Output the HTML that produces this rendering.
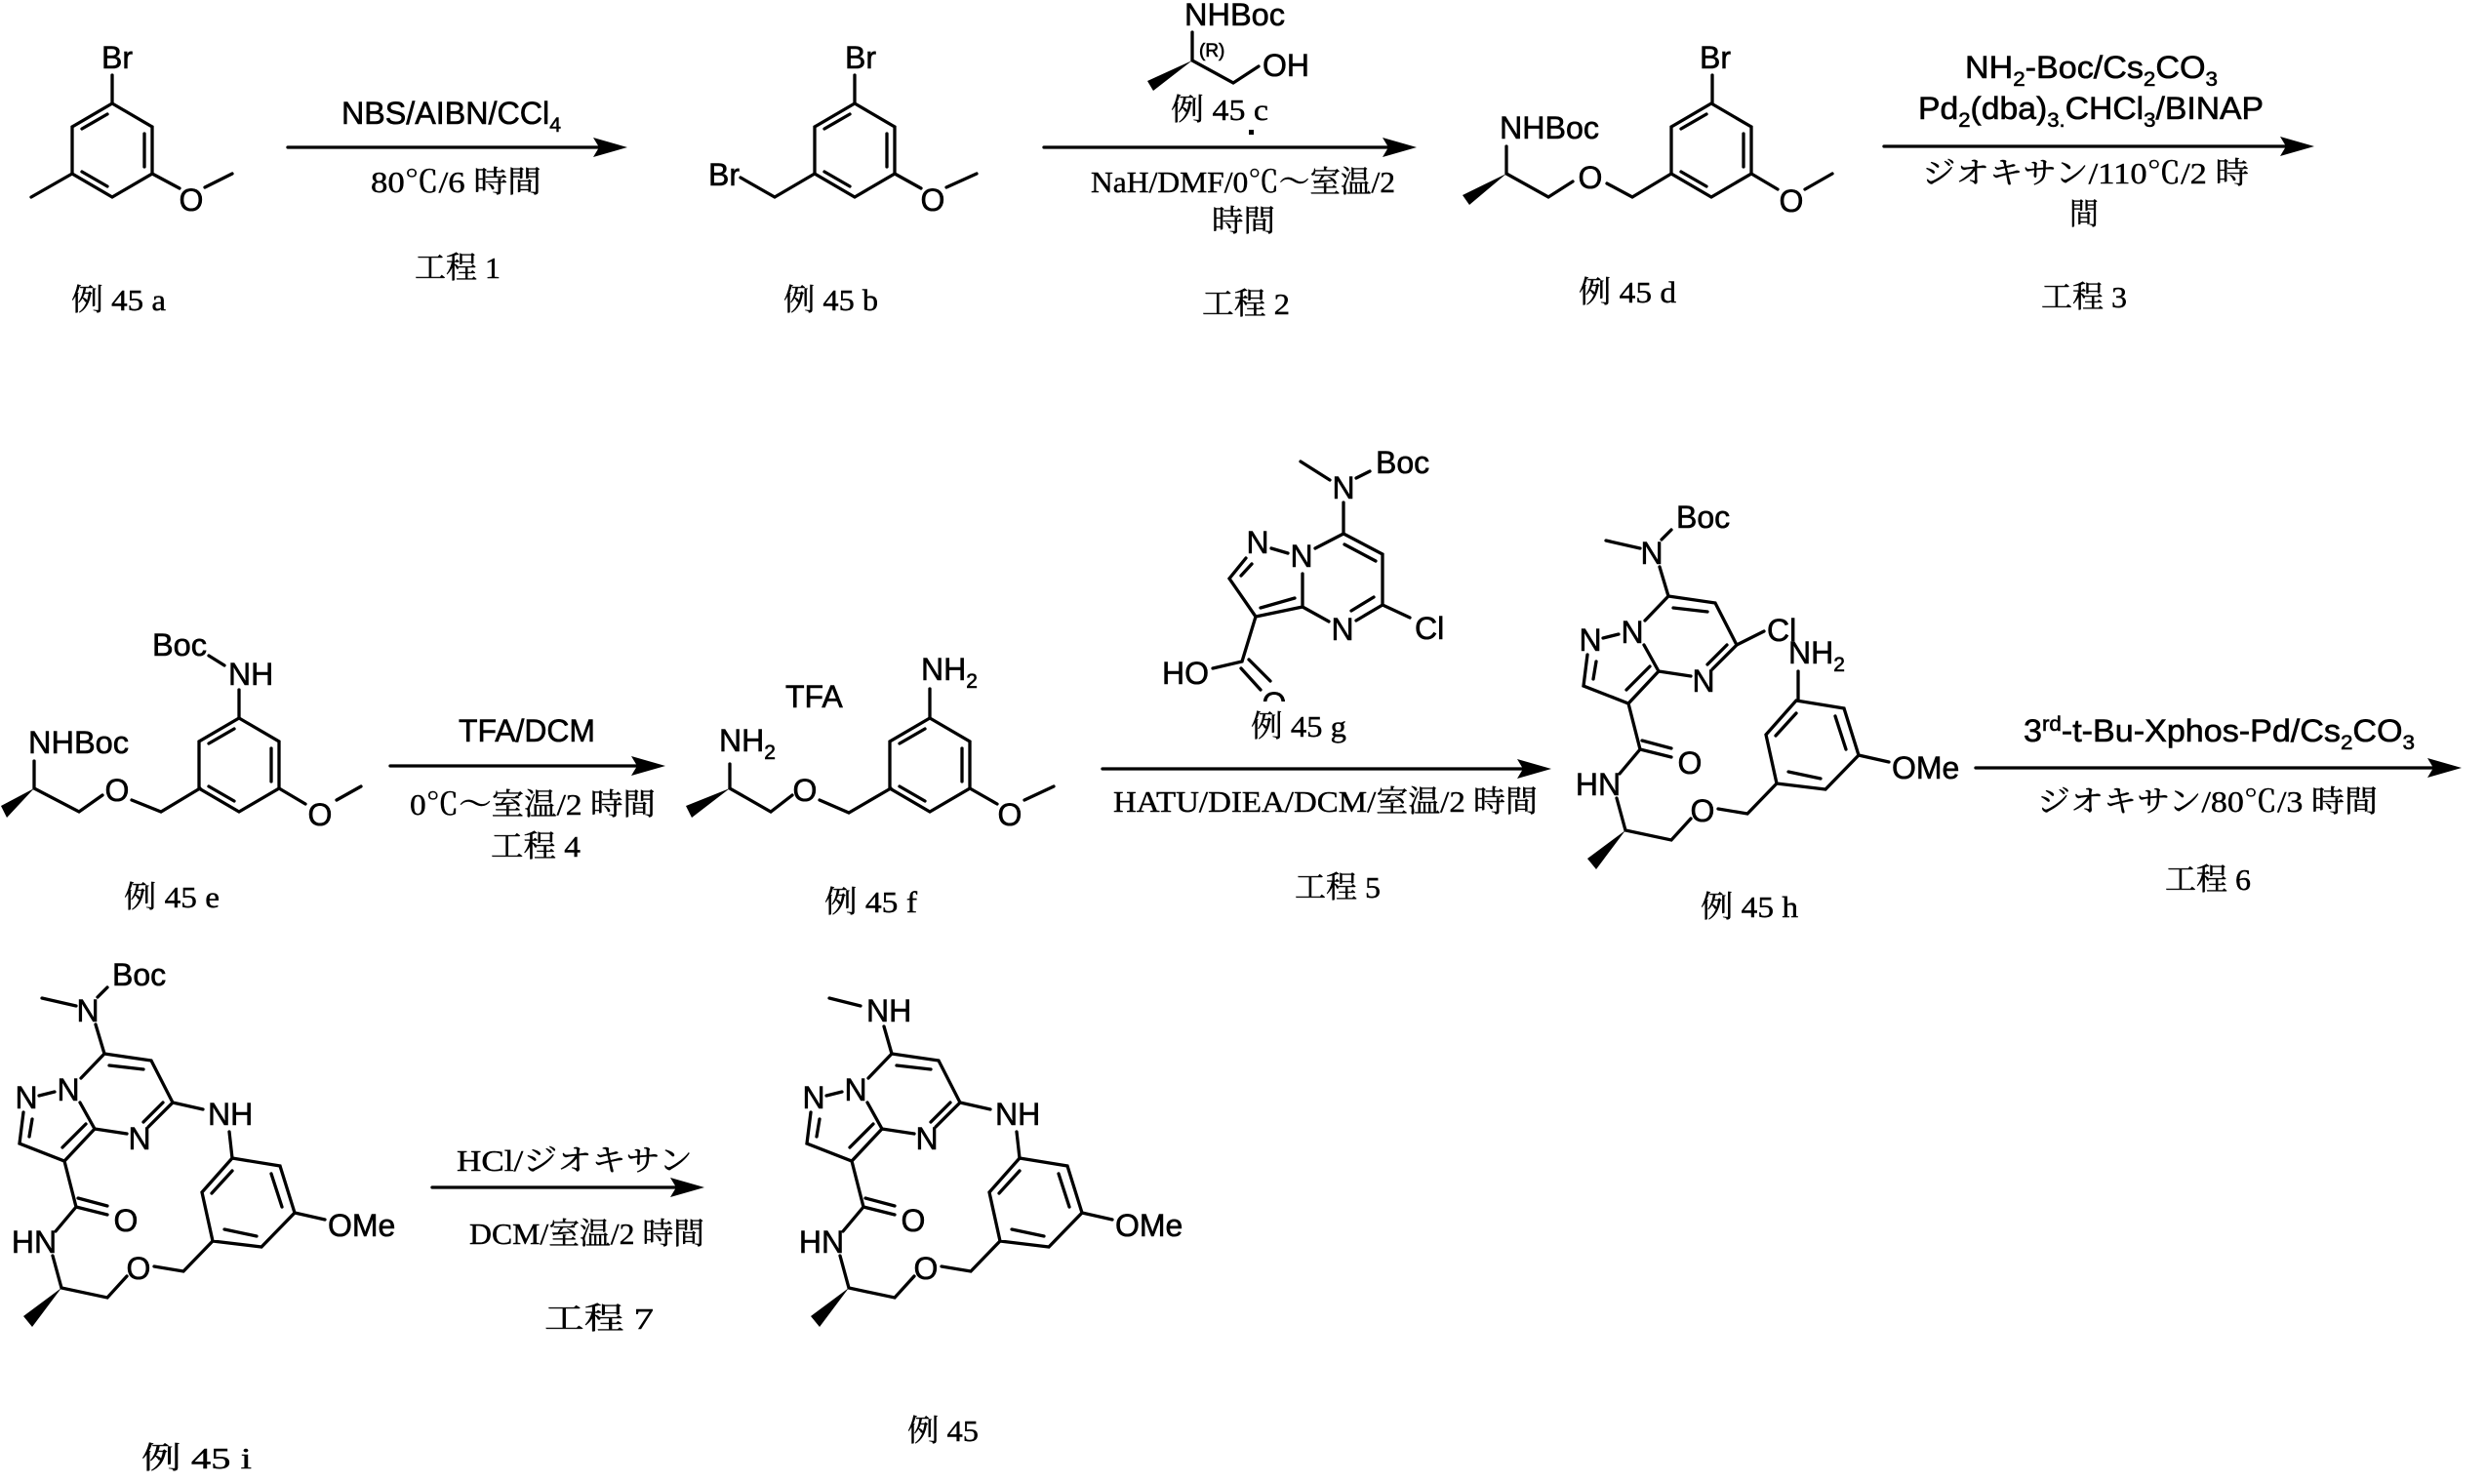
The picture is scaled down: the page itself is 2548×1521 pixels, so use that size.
<!DOCTYPE html>
<html><head><meta charset="utf-8">
<style>
html,body{margin:0;padding:0;background:#fff;}
svg{display:block;}
.b{stroke:#000;stroke-width:3.3;fill:none;stroke-linecap:round;}
.a{font-family:"Liberation Sans",sans-serif;font-size:32px;fill:#000;stroke:#000;stroke-width:0.6;}
.am{font-family:"Liberation Sans",sans-serif;font-size:32px;fill:#000;text-anchor:middle;stroke:#000;stroke-width:0.6;}
.j{font-family:"Liberation Serif","Noto Serif CJK JP",serif;font-size:31px;fill:#000;stroke:#000;stroke-width:0.4;}
.s{font-size:21px;}
</style></head><body>
<svg width="2548" height="1521" viewBox="0 0 2548 1521" xmlns="http://www.w3.org/2000/svg">
<defs>
<g id="bz">
<path class="b" d="M0,-48 L41,-24 L41,24 L0,48 L-41,24 L-41,-24 Z"/>
<path class="b" d="M-5,-37 L-31,-22 M33,-17 L33,17 M-31,22 L-5,37"/>
</g>
<g id="core">
<path class="b" d="M107,1080 L155,1087 L177,1130 L152,1155 M112,1092 L147,1096 M167,1130 L147,1150 M130,1162 L97,1157 L82,1130 M83,1105 L107,1080 M40,1123 L56,1119 M24,1140 L20,1172 L66,1190 L97,1157 M33,1147 L30,1165 M64,1176 L88,1152 M66,1190 L78,1237 L110,1245 M80,1228 L110,1236 M78,1237 L57,1262 M54,1287 L63,1320 L110,1330 L130,1308 M158,1298 L188,1303 L218,1272"/>
<polygon points="63,1320 24,1349 33,1360" fill="#000"/>
<text class="am" x="143" y="1178">N</text>
<text class="am" x="70" y="1128">N</text>
<text class="am" x="27" y="1136">N</text>
<text class="am" x="129" y="1262">O</text>
<text class="am" x="35" y="1284">HN</text>
<text class="am" x="142" y="1311">O</text>
<path class="b" d="M238,1187 L287,1195 L302,1243 L268,1278 L218,1272 L207,1222 Z M217,1223 L238,1200 M278,1203 L289,1237 M230,1260 L263,1267 M302,1243 L333,1250"/>
<text class="a" x="336" y="1267">OMe</text>
</g>
</defs>

<!-- Row 1 -->
<use href="#bz" x="115" y="154"/>
<path class="b" d="M115,106 L115,77 M74,178 L32,202 M156,178 L184,193 M210,192 L238,178"/>
<text class="a" x="104" y="70">Br</text>
<text class="am" x="196" y="216">O</text>
<text class="j" x="73" y="318" textLength="97" lengthAdjust="spacingAndGlyphs">例 45 a</text>
<path class="b" d="M295,151 L625,151"/><polygon points="608,141 643,151 608,161 614,151" fill="#000"/>
<text class="a" x="350" y="127" textLength="225" lengthAdjust="spacingAndGlyphs">NBS/AIBN/CCl<tspan class="s" dy="8">4</tspan></text>
<text class="j" x="380" y="197" textLength="175" lengthAdjust="spacingAndGlyphs">80℃/6 時間</text>
<text class="j" x="425" y="285" textLength="88" lengthAdjust="spacingAndGlyphs">工程 1</text>
<use href="#bz" x="876" y="154"/>
<path class="b" d="M876,106 L876,77 M835,178 L794,202 L759,182 M917,178 L944,193 M970,192 L1001,178"/>
<text class="a" x="866" y="70">Br</text>
<text class="a" x="726" y="190">Br</text>
<text class="am" x="956" y="216">O</text>
<text class="j" x="803" y="318" textLength="97" lengthAdjust="spacingAndGlyphs">例 45 b</text>
<text class="a" x="1214" y="26" textLength="103" lengthAdjust="spacingAndGlyphs">NHBoc</text>
<path class="b" d="M1222,33 L1222,62 L1264,85 L1290,68"/>
<polygon points="1222,62 1176,83 1182,93" fill="#000"/>
<text class="a" x="1294" y="78">OH</text>
<text class="a" x="1229" y="58" style="font-size:19px">(R)</text>
<text class="j" x="1200" y="123" textLength="100" lengthAdjust="spacingAndGlyphs">例 45 c</text>
<rect x="1280" y="133" width="5" height="5" fill="#000"/>
<path class="b" d="M1070,151 L1435,151"/><polygon points="1417,141 1452,151 1417,161 1423,151" fill="#000"/>
<text class="j" x="1118" y="197" textLength="312" lengthAdjust="spacingAndGlyphs">NaH/DMF/0℃～室温/2</text>
<text class="j" x="1242" y="237" textLength="65" lengthAdjust="spacingAndGlyphs">時間</text>
<text class="j" x="1232" y="322" textLength="90" lengthAdjust="spacingAndGlyphs">工程 2</text>
<text class="a" x="1537" y="142" textLength="102" lengthAdjust="spacingAndGlyphs">NHBoc</text>
<path class="b" d="M1544,150 L1544,178 L1587,202 L1612,186 M1647,188 L1673,202 L1713,178 M1755,106 L1755,77 M1795,178 L1822,194 M1850,194 L1878,178"/>
<polygon points="1544,178 1499,200 1506,210" fill="#000"/>
<use href="#bz" x="1754" y="154"/>
<text class="am" x="1630" y="193">O</text>
<text class="am" x="1836" y="217">O</text>
<text class="a" x="1742" y="70">Br</text>
<text class="j" x="1618" y="310" textLength="100" lengthAdjust="spacingAndGlyphs">例 45 d</text>
<text class="a" x="2014" y="80" textLength="259" lengthAdjust="spacingAndGlyphs">NH<tspan class="s" dy="8">2</tspan><tspan dy="-8">-Boc/Cs</tspan><tspan class="s" dy="8">2</tspan><tspan dy="-8">CO</tspan><tspan class="s" dy="8">3</tspan></text>
<text class="a" x="1966" y="122" textLength="354" lengthAdjust="spacingAndGlyphs">Pd<tspan class="s" dy="8">2</tspan><tspan dy="-8">(dba)</tspan><tspan class="s" dy="8">3.</tspan><tspan dy="-8">CHCl</tspan><tspan class="s" dy="8">3</tspan><tspan dy="-8">/BINAP</tspan></text>
<path class="b" d="M1931,150 L2355,150"/><polygon points="2337,140 2372,150 2337,160 2343,150" fill="#000"/>
<text class="j" x="1970" y="188" textLength="335" lengthAdjust="spacingAndGlyphs">ジオキサン/110℃/2 時</text>
<text class="j" x="2121" y="230" textLength="30" lengthAdjust="spacingAndGlyphs">間</text>
<text class="j" x="2092" y="315" textLength="88" lengthAdjust="spacingAndGlyphs">工程 3</text>

<!-- Row 2 -->
<text class="a" x="29" y="772" textLength="103" lengthAdjust="spacingAndGlyphs">NHBoc</text>
<path class="b" d="M35,780 L35,808 L81,832 L105,815 M135,820 L165,832 L205,808 M245,736 L245,707 M214,672 L230,682 M286,808 L313,824 M345,820 L370,806"/>
<polygon points="35,808 1,826 7,838" fill="#000"/>
<text class="am" x="120" y="821">O</text>
<use href="#bz" x="245" y="784"/>
<text class="a" x="234" y="702">NH</text>
<text class="a" x="156" y="672" textLength="56" lengthAdjust="spacingAndGlyphs">Boc</text>
<text class="am" x="328" y="846">O</text>
<text class="j" x="127" y="930" textLength="98" lengthAdjust="spacingAndGlyphs">例 45 e</text>
<text class="a" x="470" y="760" textLength="140" lengthAdjust="spacingAndGlyphs">TFA/DCM</text>
<path class="b" d="M400,785 L665,785"/><polygon points="647,775 682,785 647,795 653,785" fill="#000"/>
<text class="j" x="420" y="835" textLength="252" lengthAdjust="spacingAndGlyphs">0℃～室温/2 時間</text>
<text class="j" x="503" y="878" textLength="92" lengthAdjust="spacingAndGlyphs">工程 4</text>
<text class="a" x="805" y="725">TFA</text>
<text class="a" x="737" y="770">NH<tspan class="s" dy="8">2</tspan></text>
<path class="b" d="M748,783 L748,808 L790,832 L812,815 M840,820 L870,833 L913,808 M953,736 L953,706 M994,808 L1022,824 M1050,820 L1080,806"/>
<polygon points="748,808 703,826 709,838" fill="#000"/>
<text class="am" x="825" y="821">O</text>
<use href="#bz" x="953" y="784"/>
<text class="a" x="944" y="697">NH<tspan class="s" dy="8">2</tspan></text>
<text class="am" x="1035" y="846">O</text>
<text class="j" x="845" y="935" textLength="95" lengthAdjust="spacingAndGlyphs">例 45 f</text>
<path class="b" d="M1333,473 L1363,492 M1390,490 L1404,483 M1377,515 L1377,547 L1417,568 L1417,620 L1445,633 M1378,558 L1410,575 M1417,620 L1390,636 M1408,612 L1385,626 M1362,637 L1335,622 L1335,588 M1377,547 L1348,562 M1303,562 L1320,567 M1277,572 L1260,593 L1287,632 L1335,622 M1272,590 L1283,578 M1292,623 L1327,613 M1287,632 L1273,678 L1243,685 M1280,676 L1302,698 M1272,685 L1292,707"/>
<text class="am" x="1377" y="511">N</text>
<text class="a" x="1410" y="485">Boc</text>
<text class="a" x="1450" y="655">Cl</text>
<text class="am" x="1376" y="656">N</text>
<text class="am" x="1334" y="581">N</text>
<text class="am" x="1289" y="567">N</text>
<text class="a" x="1191" y="701">HO</text>
<text class="am" x="1306" y="732">O</text>
<rect x="1285" y="719" width="45" height="25" fill="#fff"/>
<text class="j" x="1282" y="755" textLength="98" lengthAdjust="spacingAndGlyphs">例 45 g</text>
<path class="b" d="M1130,788 L1573,788"/><polygon points="1555,778 1590,788 1555,798 1561,788" fill="#000"/>
<text class="j" x="1141" y="832" textLength="435" lengthAdjust="spacingAndGlyphs">HATU/DIEA/DCM/室温/2 時間</text>
<text class="j" x="1327" y="920" textLength="88" lengthAdjust="spacingAndGlyphs">工程 5</text>
<g transform="translate(1603,-469)">
<use href="#core"/>
<path class="b" d="M43,1023 L78,1031 M100,1022 L110,1012 M98,1050 L107,1080 M177,1130 L205,1116 M240,1186 L240,1157"/>
<text class="am" x="90" y="1047">N</text>
<text class="a" x="115" y="1010">Boc</text>
<text class="a" x="208" y="1126">Cl</text>
<text class="a" x="230" y="1149">NH<tspan class="s" dy="8">2</tspan></text>
</g>
<text class="j" x="1743" y="940" textLength="100" lengthAdjust="spacingAndGlyphs">例 45 h</text>
<text class="a" x="2074" y="760" textLength="401" lengthAdjust="spacingAndGlyphs">3<tspan class="s" dy="-11">rd</tspan><tspan dy="11">-t-Bu-Xphos-Pd/Cs</tspan><tspan class="s" dy="8">2</tspan><tspan dy="-8">CO</tspan><tspan class="s" dy="8">3</tspan></text>
<path class="b" d="M2025,787 L2506,787"/><polygon points="2488,777 2523,787 2488,797 2494,787" fill="#000"/>
<text class="j" x="2088" y="832" textLength="349" lengthAdjust="spacingAndGlyphs">ジオキサン/80℃/3 時間</text>
<text class="j" x="2219" y="912" textLength="88" lengthAdjust="spacingAndGlyphs">工程 6</text>

<!-- Row 3 -->
<use href="#core"/>
<path class="b" d="M43,1023 L78,1031 M100,1022 L110,1012 M98,1050 L107,1080 M177,1130 L208,1137 M235,1160 L238,1187"/>
<text class="am" x="90" y="1047">N</text>
<text class="a" x="115" y="1010">Boc</text>
<text class="a" x="213" y="1153">NH</text>
<text class="j" x="145" y="1505" textLength="113" lengthAdjust="spacingAndGlyphs">例 45 i</text>
<path class="b" d="M443,1217 L705,1217"/><polygon points="687,1207 722,1217 687,1227 693,1217" fill="#000"/>
<text class="j" x="468" y="1200" textLength="242" lengthAdjust="spacingAndGlyphs">HCl/ジオキサン</text>
<text class="j" x="481" y="1275" textLength="241" lengthAdjust="spacingAndGlyphs">DCM/室温/2 時間</text>
<text class="j" x="558" y="1362" textLength="112" lengthAdjust="spacingAndGlyphs">工程 7</text>
<g transform="translate(807,0)">
<use href="#core"/>
<path class="b" d="M43,1023 L75,1031 M99,1052 L107,1080 M177,1130 L208,1137 M235,1160 L238,1187"/>
<text class="a" x="81" y="1047">NH</text>
<text class="a" x="213" y="1153">NH</text>
</g>
<text class="j" x="930" y="1477" textLength="73" lengthAdjust="spacingAndGlyphs">例 45</text>
</svg>
</body></html>
